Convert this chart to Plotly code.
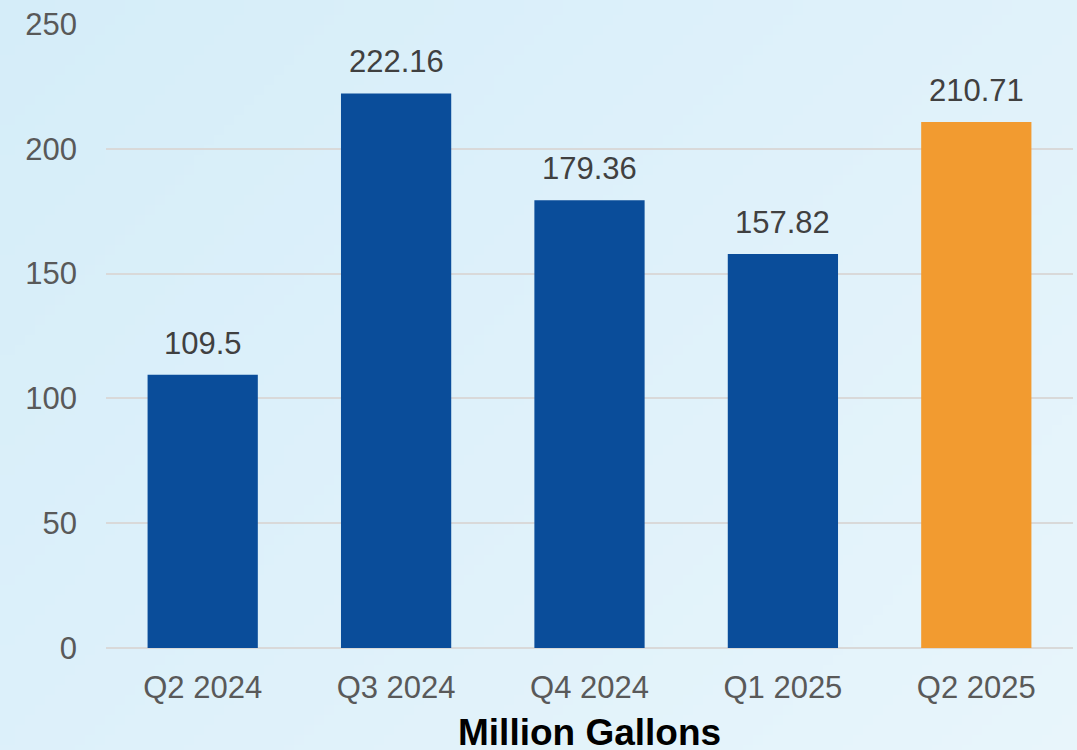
import base64, struct, zlib
import plotly.graph_objects as go

categories = ["Q2 2024", "Q3 2024", "Q4 2024", "Q1 2025", "Q2 2025"]
values = [109.5, 222.16, 179.36, 157.82, 210.71]
value_labels = ["109.5", "222.16", "179.36", "157.82", "210.71"]
bar_colors = ["#0a4d9a", "#0a4d9a", "#0a4d9a", "#0a4d9a", "#f29b30"]
y_ticks = [0, 50, 100, 150, 200, 250]
x_title = "Million Gallons"

W, H = 1077, 750
ML, MR, MT, MB = 106, 4, 24, 102
FONT = "Liberation Sans, Arial, sans-serif"


def gradient_png(w, h, c0, c1):
    rows = b""
    for j in range(h):
        row = b"\x00"
        for i in range(w):
            t = (i / (w - 1) * 0.6 + j / (h - 1) * 0.4)
            px = bytes(int(round(c0[k] + (c1[k] - c0[k]) * t)) for k in range(3))
            row += px
        rows += row

    def chunk(tag, data):
        c = struct.pack(">I", len(data)) + tag + data
        return c + struct.pack(">I", zlib.crc32(tag + data) & 0xffffffff)

    png = b"\x89PNG\r\n\x1a\n"
    png += chunk(b"IHDR", struct.pack(">IIBBBBB", w, h, 8, 2, 0, 0, 0))
    png += chunk(b"IDAT", zlib.compress(rows))
    png += chunk(b"IEND", b"")
    return "data:image/png;base64," + base64.b64encode(png).decode()


bg = gradient_png(108, 75, (213, 237, 249), (232, 245, 251))

fig = go.Figure(
    go.Bar(
        x=categories,
        y=values,
        marker=dict(color=bar_colors, line=dict(width=0)),
        width=0.57,
        cliponaxis=False,
    )
)

for c, v, lab in zip(categories, values, value_labels):
    fig.add_annotation(
        x=c, y=v, xref="x", yref="y",
        text=lab, showarrow=False,
        yanchor="bottom", yshift=12,
        font=dict(family=FONT, size=31, color="#404040"),
    )

fig.add_annotation(
    x=0.5, y=0, xref="paper", yref="paper",
    text="<b>" + x_title + "</b>", showarrow=False,
    yanchor="middle", yshift=-84,
    font=dict(family=FONT, size=37, color="#000000"),
)

pw = W - ML - MR
ph = H - MT - MB
fig.add_layout_image(
    dict(
        source=bg,
        xref="paper", yref="paper",
        x=-ML / pw, y=1 + MT / ph,
        sizex=W / pw, sizey=H / ph,
        sizing="stretch",
        xanchor="left", yanchor="top",
        layer="below",
    )
)

fig.update_layout(
    width=W,
    height=H,
    margin=dict(l=ML, r=MR, t=MT, b=MB, autoexpand=False),
    paper_bgcolor="#dcf0f9",
    plot_bgcolor="rgba(0,0,0,0)",
    showlegend=False,
    font=dict(family=FONT, size=31, color="#595959"),
    xaxis=dict(
        automargin=False,
        showgrid=False,
        showline=False,
        ticks="",
        ticklabelstandoff=18,
        tickfont=dict(size=31, color="#595959"),
    ),
    yaxis=dict(
        automargin=False,
        range=[0, 250],
        tickvals=y_ticks,
        showgrid=True,
        gridcolor="#d9d9d9",
        gridwidth=2,
        zeroline=True,
        zerolinecolor="#d9d9d9",
        zerolinewidth=2,
        showline=False,
        ticks="",
        ticklabelstandoff=28,
        tickfont=dict(size=31, color="#595959"),
    ),
    bargap=0.43,
)

fig.write_html(
    "out.html",
    config={"displayModeBar": False},
    post_script="document.body.style.margin='0';document.body.style.overflow='hidden';",
)
